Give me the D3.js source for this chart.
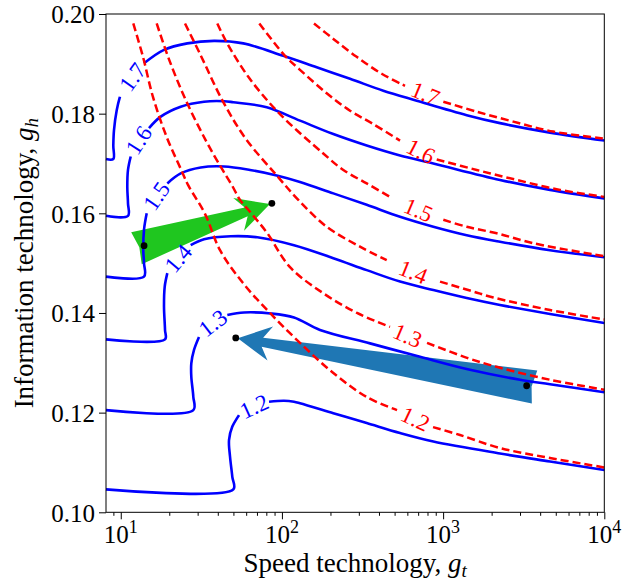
<!DOCTYPE html>
<html>
<head>
<meta charset="utf-8">
<script src="https://cdn.jsdelivr.net/npm/d3@7"></script>
<style>
	body { margin: 0; background: #fff; }
	text { font-family: "Liberation Serif", "Times New Roman", serif; white-space: pre; }
</style>
</head>
<body>
<svg id="body" width="623" height="583"></svg>
<script>
// contour levels, same for both families of curves
let levels = [1.2, 1.3, 1.4, 1.5, 1.6, 1.7]

// solid blue contours [g_t, g_h], split where the inline label sits
let blueBefore = [
	[[8.10, .1046], [49.93, .1046], [49.22, .1071], [47.63, .1112], [46.95, .1145], [49.22, .1172], [54.17, .1195]],
	[[8.10, .1205], [28.19, .1205], [28.19, .1232], [27.40, .1272], [27.40, .1299], [28.48, .1326], [30.58, .1352]],
	[[8.10, .1347], [18.82, .1347], [18.82, .1366], [18.55, .1413], [18.74, .1453], [19.45, .1480]],
	[[8.10, .1473], [13.94, .1473], [13.94, .1500], [13.80, .1526], [13.94, .1567], [14.49, .1600]],
	[[8.10, .1595], [11.09, .1595], [11.09, .1620], [10.98, .1653], [11.09, .1687], [11.53, .1714]],
	[[8.10, .1709], [8.99, .1709], [8.99, .1736], [9.08, .1767], [9.44, .1807], [9.89, .1834]]
]
let blueAfter = [
	[[83.14, .1222], [102.99, .1224], [118.8, .1222], [129.4, .1219], [208.4, .1199], [335.7, .1179], [540.3, .1159], [869.5, .1142], [2254, .1118], [4604, .1102], [10000, .1085]],
	[[45.83, .1396], [58.17, .1401], [85.18, .1399], [118.8, .1391], [172.3, .1366], [351.9, .1339], [719.0, .1312], [1468, .1286], [2999, .1266], [4604, .1257], [10000, .1241]],
	[[27.16, .1536], [32.85, .1548], [48.11, .1554], [70.36, .1552], [118.8, .1536], [208.4, .1510], [335.7, .1486], [540.3, .1463], [869.5, .1446], [1401, .1430], [2254, .1416], [4604, .1398], [10000, .1380]],
	[[19.45, .1660], [23.55, .1680], [31.33, .1692], [43.72, .1694], [63.39, .1687], [92.80, .1676], [129.4, .1663], [208.4, .1640], [335.7, .1617], [540.3, .1593], [869.5, .1573], [1401, .1556], [2254, .1543], [4604, .1526], [10000, .1512]],
	[[14.97, .1771], [17.70, .1794], [23.55, .1814], [32.85, .1824], [43.72, .1825], [49.93, .1823], [80.45, .1813], [129.4, .1786], [208.4, .1759], [335.7, .1736], [540.3, .1716], [869.5, .1700], [2254, .1667], [4604, .1647], [10000, .1630]],
	[[13.94, .1901], [18.55, .1928], [25.88, .1941], [37.91, .1946], [57.59, .1941], [101.97, .1916], [164.3, .1893], [264.5, .1870], [425.5, .1846], [685.7, .1826], [1401, .1797], [2254, .1781], [4604, .1762], [10000, .1746]]
]
let blueLabelAt = [[67.08, .1213], [37.20, .1380], [22.66, .1510], [16.61, .1635], [12.89, .1747], [11.80, .1874]]

// dashed red contours
let redBefore = [
	[[11.96, .1981], [13.74, .1914], [15.86, .1833], [19.28, .1753], [23.89, .1685], [26.14, .1657], [33.32, .1599], [41.29, .1526], [57.35, .1460], [84.33, .1400], [129.4, .1340], [207.5, .1280], [337.1, .1231], [517.6, .1205]],
	[[16.71, .1981], [19.98, .1908], [25.33, .1827], [33.61, .1747], [41.76, .1693], [48.81, .1657], [54.95, .1627], [64.94, .1599], [80.80, .1561], [112.2, .1492], [179.8, .1440], [292.3, .1400], [468.3, .1372]],
	[[25.04, .1981], [31.02, .1920], [43.29, .1823], [59.86, .1749], [92.80, .1676], [126.3, .1627], [189.6, .1573], [305.0, .1533], [446.7, .1506]],
	[[39.72, .1981], [45.43, .1943], [62.49, .1872], [97.27, .1799], [180.6, .1720], [240.3, .1687], [335.7, .1660], [468.3, .1633]],
	[[72.40, .1981], [104.5, .1916], [129.4, .1888], [189.6, .1841], [264.5, .1806], [368.9, .1779], [540.3, .1746]],
	[[158.1, .1981], [208.4, .1950], [291.0, .1914], [415.9, .1880], [580.2, .1856]]
]
let redAfter = [
	[[865.9, .1171], [1273, .1155], [2254, .1129], [4604, .1109], [10000, .1090]],
	[[794.9, .1340], [1407, .1310], [2254, .1290], [4604, .1266], [10000, .1246]],
	[[956.8, .1463], [1539, .1443], [2049, .1431], [4604, .1406], [10000, .1387]],
	[[1003, .1587], [1401, .1573], [2150, .1560], [3627, .1540], [10000, .1514]],
	[[912.7, .1708], [1616, .1687], [2861, .1667], [5312, .1647], [10000, .1633]],
	[[1003, .1824], [1616, .1804], [2726, .1784], [4827, .1764], [10000, .1750]]
]
let redLabelAt = [[674.2, .1188], [602.9, .1355], [653.1, .1483], [703.6, .1607], [729.2, .1725], [777.7, .1841]]

// black dots and the two arrows between them
let dots = [[13.95, .1535], [86.6, .1620], [51.7, .1350], [3298, .1254]]
let arrowFrom = [[13.95, .1535], [3298, .1254]]
let arrowTo = [[86.6, .1620], [51.7, .1350]]
let arrowColors = ["#1fc61f", "#1f77b4"]

// ticks
let yTicks = [0.10, 0.12, 0.14, 0.16, 0.18, 0.20]
let xTicks = [10, 100, 1000, 10000]
let xMinorTicks = [9, 20, 30, 40, 50, 60, 70, 80, 90, 200, 300, 400, 500, 600, 700, 800, 900,
	2000, 3000, 4000, 5000, 6000, 7000, 8000, 9000]

//Set dimensions and margins of graph
let margin = {top: 14, right: 18.7, bottom: 70.7, left: 106}
let bodyWidth = 623 - margin.left - margin.right
let bodyHeight = 583 - margin.top - margin.bottom

let svg = d3.select("#body")
let body = svg.append("g")
	.attr("transform", "translate(" + margin.left + "," + margin.top + ")")

//set ranges
let xscale = d3.scaleLog()
	.domain([8.1, 10000])
	.range([0, bodyWidth])
let yscale = d3.scaleLinear()
	.domain([0.10, 0.20])
	.range([bodyHeight, 0])

let contourLine = d3.line()
	.x(d => xscale(d[0]))
	.y(d => yscale(d[1]))
	.curve(d3.curveCatmullRom.alpha(0.5))

//arrows go underneath everything
function arrowShape(from, to) {
	let sx = xscale(from[0]), sy = yscale(from[1])
	let ex = xscale(to[0]), ey = yscale(to[1])
	let len = Math.hypot(ex - sx, ey - sy)
	let ux = (ex - sx) / len, uy = (ey - sy) / len
	let nx = -uy, ny = ux
	let tx = sx - ux * 8, ty = sy - uy * 8
	let L = len + 6
	let pt = (along, across) => [tx + ux * along + nx * across, ty + uy * along + ny * across]
	return [pt(0, -16.8), pt(L - 25, -4.6), pt(L - 33, -17.2), pt(L, 0),
		pt(L - 33, 17.2), pt(L - 25, 4.6), pt(0, 16.8), pt(3, 0)]
}

body.append("g").selectAll("path")
	.data(arrowFrom)
	.enter()
	.append("path")
	.attr("d", (d, i) => "M" + arrowShape(d, arrowTo[i]).join("L") + "Z")
	.attr("fill", (d, i) => arrowColors[i])

//blue solid contours
body.append("g").selectAll("path")
	.data(blueBefore.concat(blueAfter))
	.enter()
	.append("path")
	.attr("d", contourLine)
	.attr("fill", "none")
	.attr("stroke", "#0000ff")
	.attr("stroke-width", 2.6)

//red dashed contours
body.append("g").selectAll("path")
	.data(redBefore.concat(redAfter))
	.enter()
	.append("path")
	.attr("d", contourLine)
	.attr("fill", "none")
	.attr("stroke", "#ff0000")
	.attr("stroke-width", 2.5)
	.attr("stroke-dasharray", "8,4")

//inline labels, turned along the gap they sit in
function gapAngle(a, b) {
	let p = a[a.length - 1], q = b[0]
	return Math.atan2(yscale(q[1]) - yscale(p[1]), xscale(q[0]) - xscale(p[0])) * 180 / Math.PI
}

function addLabels(at, before, after, color) {
	body.append("g").selectAll("text")
		.data(at)
		.enter()
		.append("text")
		.attr("transform", (d, i) => "translate(" + xscale(d[0]) + "," + yscale(d[1]) + ") rotate(" + gapAngle(before[i], after[i]) + ")")
		.attr("text-anchor", "middle")
		.attr("dy", "0.35em")
		.attr("fill", color)
		.style("font-size", "23px")
		.text((d, i) => d3.format(".1f")(levels[i]))
}
addLabels(blueLabelAt, blueBefore, blueAfter, "#0000ff")
addLabels(redLabelAt, redBefore, redAfter, "#ff0000")

//dots on top
body.append("g").selectAll("circle")
	.data(dots)
	.enter()
	.append("circle")
	.attr("cx", d => xscale(d[0]))
	.attr("cy", d => yscale(d[1]))
	.attr("r", 3.4)
	.attr("fill", "black")

//Add the y axis
let yAxis = body.append("g")
	.call(d3.axisLeft(yscale).tickValues(yTicks).tickFormat(d3.format(".2f")).tickSize(7).tickPadding(4))
yAxis.select(".domain").remove()
yAxis.selectAll("text").style("font-size", "25px").attr("dy", "0.35em")

//Add the x axis, major and minor ticks
let xAxis = body.append("g")
	.attr("transform", "translate(0," + bodyHeight + ")")
	.call(d3.axisBottom(xscale).tickValues(xTicks).tickFormat("").tickSize(7))
xAxis.select(".domain").remove()

let xMinor = body.append("g")
	.attr("transform", "translate(0," + bodyHeight + ")")
	.call(d3.axisBottom(xscale).tickValues(xMinorTicks).tickFormat("").tickSize(3.5))
xMinor.select(".domain").remove()

let xLabels = body.append("g").selectAll("text")
	.data(xTicks)
	.enter()
	.append("text")
	.attr("x", d => xscale(d))
	.attr("y", bodyHeight + 31)
	.attr("text-anchor", "middle")
	.style("font-size", "25px")
xLabels.append("tspan").text("10")
xLabels.append("tspan")
	.attr("dy", -10)
	.style("font-size", "18px")
	.text(d => Math.round(Math.log10(d)))

//frame
body.append("rect")
	.attr("width", bodyWidth)
	.attr("height", bodyHeight)
	.attr("fill", "none")
	.attr("stroke", "black")
	.attr("stroke-width", 1)

//axis labels
let xTitle = svg.append("text")
	.attr("x", margin.left + bodyWidth / 2)
	.attr("y", 572)
	.attr("text-anchor", "middle")
	.style("font-size", "27px")
xTitle.append("tspan").text("Speed technology, ")
xTitle.append("tspan").style("font-style", "italic").text("g")
xTitle.append("tspan").style("font-style", "italic").style("font-size", "19px").attr("dy", 5).text("t")

let yTitle = svg.append("text")
	.attr("transform", "translate(33," + (margin.top + bodyHeight / 2) + ") rotate(-90)")
	.attr("text-anchor", "middle")
	.style("font-size", "27px")
yTitle.append("tspan").text("Information technology, ")
yTitle.append("tspan").style("font-style", "italic").text("g")
yTitle.append("tspan").style("font-style", "italic").style("font-size", "19px").attr("dy", 5).text("h")
</script>
</body>
</html>
